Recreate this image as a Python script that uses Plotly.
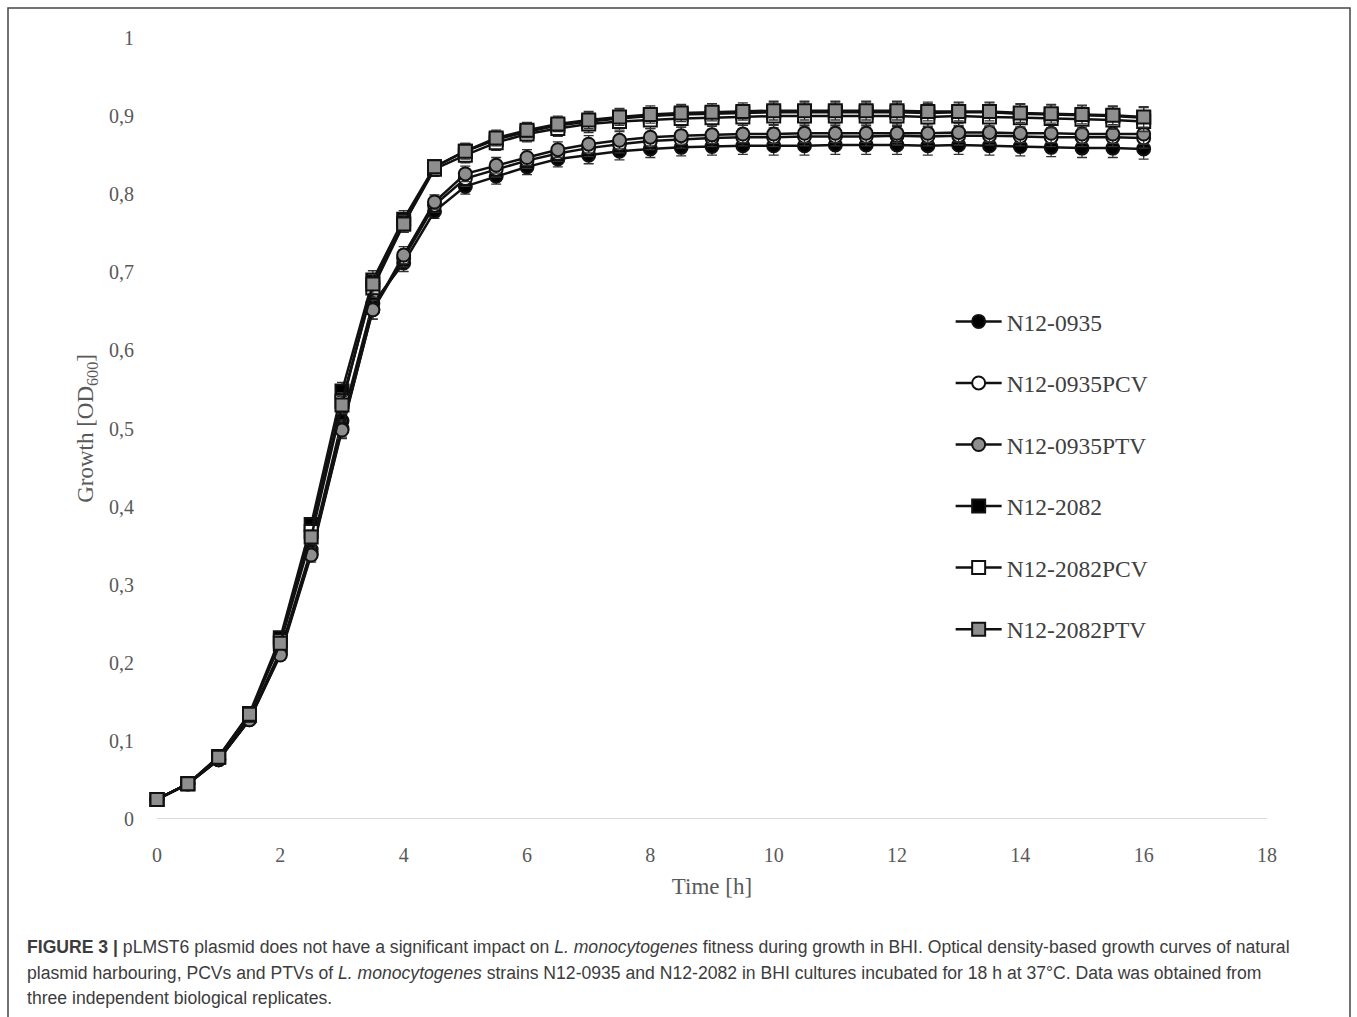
import plotly.graph_objects as go

time_h = [i * 0.5 for i in range(33)]

n0935 = [0.025, 0.045, 0.076, 0.128, 0.215, 0.345, 0.51, 0.66, 0.712, 0.778, 0.81, 0.823, 0.835,
         0.845, 0.85, 0.855, 0.858, 0.86, 0.861, 0.862, 0.862, 0.862, 0.863, 0.863, 0.863, 0.862,
         0.863, 0.862, 0.861, 0.86, 0.859, 0.859, 0.858]
n0935pcv = [0.025, 0.045, 0.076, 0.127, 0.212, 0.34, 0.5, 0.652, 0.718, 0.786, 0.82, 0.832, 0.843,
            0.852, 0.859, 0.864, 0.868, 0.87, 0.872, 0.873, 0.873, 0.874, 0.874, 0.874, 0.875, 0.874,
            0.875, 0.875, 0.874, 0.873, 0.873, 0.873, 0.872]
n0935ptv = [0.025, 0.045, 0.076, 0.127, 0.21, 0.338, 0.498, 0.652, 0.722, 0.79, 0.826, 0.837, 0.847,
            0.857, 0.864, 0.869, 0.873, 0.875, 0.876, 0.877, 0.877, 0.878, 0.878, 0.878, 0.878, 0.878,
            0.879, 0.879, 0.878, 0.878, 0.877, 0.877, 0.877]
n2082 = [0.025, 0.045, 0.08, 0.135, 0.232, 0.377, 0.548, 0.69, 0.768, 0.835, 0.855, 0.87, 0.88,
         0.888, 0.893, 0.897, 0.9, 0.902, 0.903, 0.904, 0.905, 0.905, 0.905, 0.905, 0.905, 0.904,
         0.905, 0.905, 0.903, 0.902, 0.901, 0.9, 0.898]
n2082pcv = [0.025, 0.045, 0.079, 0.133, 0.228, 0.368, 0.535, 0.68, 0.762, 0.832, 0.85, 0.866, 0.877,
            0.884, 0.89, 0.893, 0.895, 0.897, 0.898, 0.899, 0.9, 0.9, 0.9, 0.9, 0.9, 0.899,
            0.9, 0.899, 0.898, 0.897, 0.896, 0.895, 0.893]
n2082ptv = [0.025, 0.045, 0.079, 0.134, 0.225, 0.361, 0.53, 0.685, 0.762, 0.835, 0.855, 0.872, 0.882,
            0.89, 0.895, 0.899, 0.902, 0.904, 0.905, 0.906, 0.907, 0.907, 0.907, 0.907, 0.907, 0.906,
            0.906, 0.906, 0.904, 0.903, 0.902, 0.901, 0.899]

err_small = [0.002, 0.003, 0.004, 0.005, 0.007, 0.009, 0.011, 0.012, 0.011, 0.009, 0.01, 0.01, 0.01,
             0.01, 0.011, 0.011, 0.011, 0.011, 0.011, 0.011, 0.012, 0.012, 0.012, 0.012, 0.012, 0.012,
             0.012, 0.012, 0.012, 0.012, 0.012, 0.012, 0.013]

series_names = ["N12-0935", "N12-0935PCV", "N12-0935PTV", "N12-2082", "N12-2082PCV", "N12-2082PTV"]
series_values = [n0935, n0935pcv, n0935ptv, n2082, n2082pcv, n2082ptv]
symbols = ["circle", "circle", "circle", "square", "square", "square"]
fills = ["#000000", "#ffffff", "#8e8e8e", "#000000", "#ffffff", "#8e8e8e"]

x_ticks = [0, 2, 4, 6, 8, 10, 12, 14, 16, 18]
y_ticks = [0, 0.1, 0.2, 0.3, 0.4, 0.5, 0.6, 0.7, 0.8, 0.9, 1]
y_ticklabels = ["0", "0,1", "0,2", "0,3", "0,4", "0,5", "0,6", "0,7", "0,8", "0,9", "1"]

fig = go.Figure()
for i, (name, vals) in enumerate(zip(series_names, series_values)):
    fig.add_trace(go.Scatter(
        x=time_h, y=vals, name=name, mode="lines+markers",
        legendgroup=name,
        line=dict(color="#111111", width=2.5),
        marker=dict(symbol=symbols[i], size=13, color=fills[i],
                    line=dict(color="#111111", width=2)),
        error_y=dict(type="data", array=err_small, visible=True,
                     color="#333333", thickness=1.3, width=5),
        cliponaxis=False,
    ))

FS = "Liberation Serif"
fig.update_layout(
    width=1357, height=1017,
    paper_bgcolor="white", plot_bgcolor="white",
    margin=dict(l=157, r=90, t=38, b=198),
    showlegend=True,
    legend=dict(x=0.715, y=0.665, xanchor="left", yanchor="top",
                font=dict(family=FS, size=23.5, color="#404040"),
                tracegroupgap=28, itemwidth=46, bgcolor="rgba(0,0,0,0)"),
    xaxis=dict(range=[0, 18], tickvals=x_ticks, showgrid=False, zeroline=False,
               showline=False, ticks="", ticklabelstandoff=22,
               tickfont=dict(family=FS, size=20, color="#595959"),
               title=dict(text="Time [h]", font=dict(family=FS, size=23, color="#595959"), standoff=12)),
    yaxis=dict(range=[0, 1], tickvals=y_ticks, ticktext=y_ticklabels, showgrid=False,
               zeroline=False, showline=False, ticks="", ticklabelstandoff=22,
               tickfont=dict(family=FS, size=20, color="#595959"),
               title=dict(text="Growth [OD<sub>600</sub>]", font=dict(family=FS, size=23, color="#595959"),
                          standoff=8)),
)

# baseline (x axis line)
fig.add_shape(type="line", xref="x", yref="y", x0=0, x1=18, y0=0, y1=0,
              line=dict(color="#d0d0d0", width=1.5), layer="below")

# outer frame
def px_x(px):
    return (px - 157) / 1110.0

def px_y(py):
    return (819 - py) / 781.0

fig.add_shape(type="rect", xref="paper", yref="paper",
              x0=px_x(8), x1=px_x(1350), y0=px_y(1040), y1=px_y(8),
              line=dict(color="#444444", width=1.5), fillcolor="rgba(0,0,0,0)")

caption_lines = [
    "<b>FIGURE 3 |</b> pLMST6 plasmid does not have a significant impact on <i>L. monocytogenes</i> fitness during growth in BHI. Optical density-based growth curves of natural",
    "plasmid harbouring, PCVs and PTVs of <i>L. monocytogenes</i> strains N12-0935 and N12-2082 in BHI cultures incubated for 18 h at 37°C. Data was obtained from",
    "three independent biological replicates.",
]
caption_y = [947, 973, 998]
for txt, py in zip(caption_lines, caption_y):
    fig.add_annotation(text=txt, xref="paper", yref="paper", x=px_x(25), y=px_y(py),
                       xanchor="left", yanchor="middle", showarrow=False, align="left",
                       font=dict(family="Liberation Sans", size=17.6, color="#3c3c3c"))

fig.write_html("out.html")
